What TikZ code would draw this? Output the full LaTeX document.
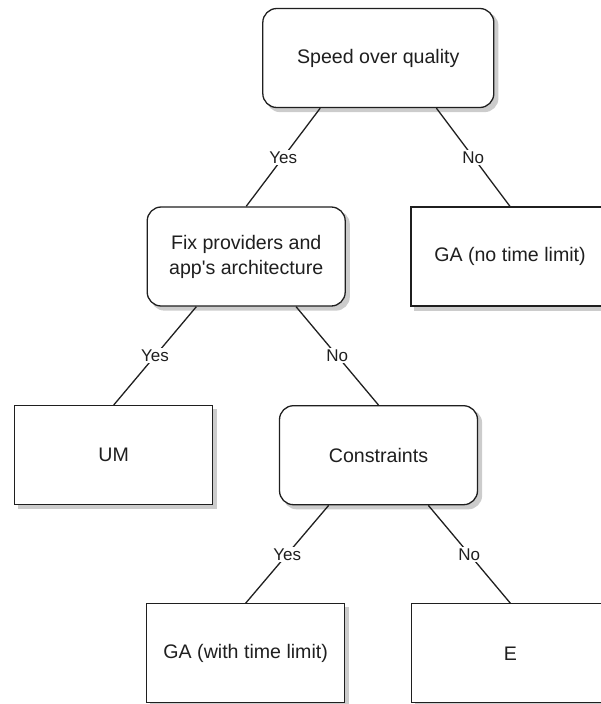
\documentclass[tikz,border=0pt]{standalone}
\usepackage{fontspec}
\setmainfont{Liberation Sans}
\usetikzlibrary{calc,backgrounds}
\definecolor{shadowgray}{HTML}{CCCCCC}
\begin{document}
\begin{tikzpicture}[x=1pt,y=-1pt,
  box/.style={draw=black!88, line width=1.3pt, fill=white, minimum width=198pt, minimum height=99pt,
    inner sep=0pt, align=center, text=black!88, font=\fontsize{19.6pt}{25pt}\selectfont},
  rbox/.style={box, rounded corners=14pt},
  shadowbox/.style={fill=shadowgray, draw=none},
  conn/.style={line width=1.3pt, draw=black!88},
  lbl/.style={fill=white, inner sep=1.5pt, text=black!88, font=\fontsize{17pt}{20pt}\selectfont}]
\useasboundingbox (0,0) rectangle (600,704);
\node[rbox, minimum width=231pt] (root) at (378.3,58) {Speed over quality};
\node[rbox] (fix) at (246.2,256.5) {Fix providers and\\app\textquotesingle s architecture};
\node[box] (gano) at (510,256.5) {GA (no time limit)};
\node[box] (um) at (113.7,455.2) {UM};
\node[rbox] (cons) at (378.5,455.2) {Constraints};
\node[box] (gawith) at (245.7,653.3) {GA (with time limit)};
\node[box] (e) at (510.3,653.3) {E};
\begin{scope}[on background layer]
  \foreach \n in {root,fix,cons}
    \fill[shadowgray, rounded corners=14pt] ($(\n.north west)+(4,4)$) rectangle ($(\n.south east)+(4,4)$);
  \foreach \n in {gano,um,gawith,e}
    \fill[shadowgray] ($(\n.north west)+(4,4)$) rectangle ($(\n.south east)+(4,4)$);
\end{scope}
\draw[conn] ($(root.south west)!0.25!(root.south east)$) -- node[lbl] {Yes} (fix.north);
\draw[conn] ($(root.south west)!0.75!(root.south east)$) -- node[lbl] {No} (gano.north);
\draw[conn] ($(fix.south west)!0.25!(fix.south east)$) -- node[lbl] {Yes} (um.north);
\draw[conn] ($(fix.south west)!0.75!(fix.south east)$) -- node[lbl] {No} (cons.north);
\draw[conn] ($(cons.south west)!0.25!(cons.south east)$) -- node[lbl] {Yes} (gawith.north);
\draw[conn] ($(cons.south west)!0.75!(cons.south east)$) -- node[lbl] {No} (e.north);
\end{tikzpicture}
\end{document}
